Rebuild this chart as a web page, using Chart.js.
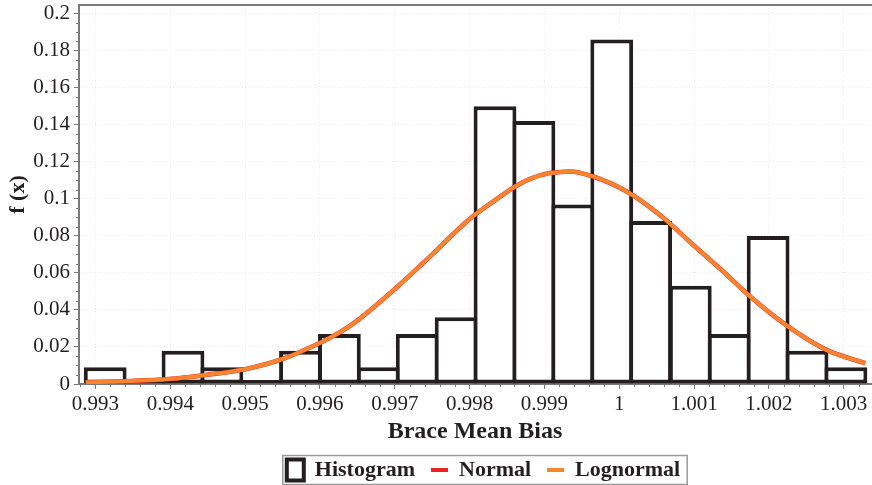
<!DOCTYPE html>
<html>
<head>
<meta charset="utf-8">
<title>Brace Mean Bias</title>
<script src="https://cdn.jsdelivr.net/npm/chart.js@4.4.1/dist/chart.umd.min.js"></script>
<style>
  html, body { margin: 0; padding: 0; background: #fff; }
  #wrap { width: 872px; height: 485px; }
</style>
</head>
<body>
<div id="wrap"><canvas id="biasChart" width="872" height="485"></canvas></div>
<script>
// histogram bins: centre of each bin and its f(x) height
const binCenters = [0.99313, 0.99365, 0.99417, 0.99469, 0.99521, 0.99574, 0.99626, 0.99678, 0.9973, 0.99782,
                    0.99834, 0.99886, 0.99938, 0.9999, 1.00042, 1.00095, 1.00147, 1.00199, 1.00251, 1.00303];
const binHeights = [0.009, 0, 0.018, 0.009, 0, 0.018, 0.027, 0.009, 0.027, 0.036,
                    0.150, 0.142, 0.097, 0.186, 0.088, 0.053, 0.027, 0.080, 0.018, 0.009];

// fitted densities, sampled along the axis
const curveX = [0.99287, 0.99345, 0.99398, 0.99447, 0.995, 0.9955, 0.99599, 0.99625, 0.99649, 0.99702,
                0.99747, 0.99791, 0.99807, 0.99836, 0.99861, 0.99881, 0.99907, 0.99921, 0.99934, 0.99965,
                1.0001, 1.00054, 1.00099, 1.00144, 1.00175, 1.00224, 1.00277, 1.00329];
const normalY = [0.0009, 0.0016, 0.0027, 0.0049, 0.0080, 0.0135, 0.0220, 0.0275, 0.0340, 0.0520,
                 0.0688, 0.0859, 0.0914, 0.0998, 0.1067, 0.1108, 0.1139, 0.1145, 0.1148, 0.1121,
                 0.1040, 0.0914, 0.0751, 0.0589, 0.0472, 0.0315, 0.0184, 0.0112];
const lognormalY = [0.0009, 0.0016, 0.0027, 0.0049, 0.0080, 0.0135, 0.0220, 0.0275, 0.0340, 0.0520,
                    0.0688, 0.0859, 0.0914, 0.0998, 0.1067, 0.1108, 0.1139, 0.1145, 0.1148, 0.1121,
                    0.1040, 0.0914, 0.0751, 0.0589, 0.0472, 0.0315, 0.0184, 0.0112];

// axis ticks
const xTickValues = [0.993, 0.994, 0.995, 0.996, 0.997, 0.998, 0.999, 1, 1.001, 1.002, 1.003];
const xTickLabels = ['0.993', '0.994', '0.995', '0.996', '0.997', '0.998', '0.999', '1', '1.001', '1.002', '1.003'];
const yTickValues = [0, 0.02, 0.04, 0.06, 0.08, 0.1, 0.12, 0.14, 0.16, 0.18, 0.2];
const yTickLabels = ['0', '0.02', '0.04', '0.06', '0.08', '0.1', '0.12', '0.14', '0.16', '0.18', '0.2'];

const SERIF = "'Liberation Serif', 'Times New Roman', serif";
const AXIS_GREY = '#7a7a7a';
const GRID_GREY = '#ececec';

const toPoints = (xs, ys) => xs.map((x, i) => ({ x: x, y: ys[i] }));

// small ticks between the labelled ones
const minorTicks = {
  id: 'minorTicks',
  afterDraw(chart) {
    const { ctx, chartArea, scales } = chart;
    ctx.save();
    ctx.strokeStyle = AXIS_GREY;
    ctx.lineWidth = 1;
    ctx.beginPath();
    for (let i = 0; i <= 52; i++) {
      if (i % 5 === 1) continue; // major tick already there
      const v = 0.9928 + i * 0.0002;
      const px = Math.round(scales.x.getPixelForValue(v)) + 0.5;
      if (px < chartArea.left || px > chartArea.right) continue;
      ctx.moveTo(px, chartArea.bottom);
      ctx.lineTo(px, chartArea.bottom + 3);
    }
    for (let i = 1; i < 40; i++) {
      if (i % 4 === 0) continue;
      const py = Math.round(scales.y.getPixelForValue(i * 0.005)) + 0.5;
      ctx.moveTo(chartArea.left - 3, py);
      ctx.lineTo(chartArea.left, py);
    }
    ctx.stroke();
    ctx.restore();
  }
};

// grey frame line along the top of the plot
const topFrame = {
  id: 'topFrame',
  afterDraw(chart) {
    const { ctx, chartArea } = chart;
    ctx.save();
    ctx.strokeStyle = AXIS_GREY;
    ctx.lineWidth = 2;
    ctx.beginPath();
    ctx.moveTo(chartArea.left, chartArea.top);
    ctx.lineTo(chartArea.right + 2, chartArea.top);
    ctx.stroke();
    ctx.restore();
  }
};

// nudge the legend row a little to the right of the plot centre
const legendShift = {
  id: 'legendShift',
  afterLayout(chart) {
    if (chart.legend) chart.legend.left += 17;
  }
};

// box around the legend entries
const legendFrame = {
  id: 'legendFrame',
  afterDraw(chart) {
    const boxes = chart.legend && chart.legend.legendHitBoxes;
    if (!boxes || !boxes.length) return;
    const first = boxes[0];
    const last = boxes[boxes.length - 1];
    const left = first.left - 4;
    const right = last.left + last.width + 7;
    const mid = first.top + first.height / 2;
    const ctx = chart.ctx;
    ctx.save();
    ctx.strokeStyle = '#9a9a9a';
    ctx.lineWidth = 1.5;
    ctx.strokeRect(left, mid - 14.5, right - left, 29);
    ctx.restore();
  }
};

const ctx = document.getElementById('biasChart');
const chart = new Chart(ctx, {
  type: 'bar',
  data: {
    datasets: [
      {
        type: 'bar',
        label: 'Histogram',
        data: toPoints(binCenters, binHeights),
        backgroundColor: '#ffffff',
        borderColor: '#231f20',
        borderWidth: 4,
        borderSkipped: false,
        minBarLength: 4,
        barPercentage: 1.1,
        categoryPercentage: 1,
        order: 3
      },
      {
        type: 'line',
        label: 'Normal',
        data: toPoints(curveX, normalY),
        borderColor: '#ed2024',
        borderWidth: 4.6,
        pointRadius: 0,
        cubicInterpolationMode: 'monotone',
        fill: false,
        order: 2
      },
      {
        type: 'line',
        label: 'Lognormal',
        data: toPoints(curveX, lognormalY),
        borderColor: '#f7842f',
        borderWidth: 4,
        pointRadius: 0,
        cubicInterpolationMode: 'monotone',
        fill: false,
        order: 1
      }
    ]
  },
  options: {
    responsive: false,
    animation: false,
    layout: {
      padding: { top: 5, right: 1, left: 0, bottom: -6 }
    },
    scales: {
      x: {
        type: 'linear',
        min: 0.99278,
        max: 1.003365,
        offset: false,
        afterBuildTicks: scale => {
          scale.ticks = xTickValues.map(v => ({ value: v }));
        },
        afterFit: scale => {
          scale.paddingLeft = 0;
          scale.paddingRight = 0;
          scale.height = 59;
        },
        ticks: {
          autoSkip: false,
          maxRotation: 0,
          padding: 3,
          color: '#231f20',
          font: { family: SERIF, size: 21 },
          callback: (value, index) => xTickLabels[index]
        },
        grid: {
          offset: false,
          color: GRID_GREY,
          lineWidth: 1,
          drawTicks: true,
          tickLength: 5,
          tickColor: AXIS_GREY,
          tickBorderDash: []
        },
        border: {
          display: true,
          color: AXIS_GREY,
          width: 2,
          dash: [1, 2]
        },
        title: {
          display: true,
          text: 'Brace Mean Bias',
          color: '#231f20',
          padding: { top: 0, bottom: -3 },
          font: { family: SERIF, size: 24, weight: 'bold' }
        }
      },
      y: {
        type: 'linear',
        min: 0,
        max: 0.2047,
        afterBuildTicks: scale => {
          scale.ticks = yTickValues.map(v => ({ value: v }));
        },
        afterFit: scale => {
          scale.paddingTop = 0;
          scale.paddingBottom = 0;
          scale.width = 79;
        },
        ticks: {
          padding: 4,
          color: '#231f20',
          font: { family: SERIF, size: 21 },
          callback: (value, index) => yTickLabels[index]
        },
        grid: {
          color: GRID_GREY,
          lineWidth: 1,
          drawTicks: true,
          tickLength: 5,
          tickColor: AXIS_GREY,
          tickBorderDash: []
        },
        border: {
          display: true,
          color: AXIS_GREY,
          width: 2,
          dash: [1, 2]
        },
        title: {
          display: true,
          text: 'f (x)',
          color: '#231f20',
          padding: { top: 5, bottom: 0 },
          font: { family: SERIF, size: 22, weight: 'bold' }
        }
      }
    },
    plugins: {
      tooltip: { enabled: false },
      legend: {
        position: 'bottom',
        fullSize: false,
        labels: {
          usePointStyle: true,
          pointStyleWidth: 17,
          boxHeight: 21,
          padding: 16,
          color: '#231f20',
          font: { family: SERIF, size: 22, weight: 'bold' },
          generateLabels: chart => chart.data.datasets.map((ds, i) => ({
            text: ds.label,
            datasetIndex: i,
            pointStyle: ds.type === 'bar' ? 'rect' : 'line',
            fillStyle: ds.type === 'bar' ? '#ffffff' : ds.borderColor,
            strokeStyle: ds.borderColor,
            lineWidth: 4,
            fontColor: '#231f20',
            hidden: false
          }))
        }
      }
    }
  },
  plugins: [minorTicks, topFrame, legendShift, legendFrame]
});
</script>
</body>
</html>
